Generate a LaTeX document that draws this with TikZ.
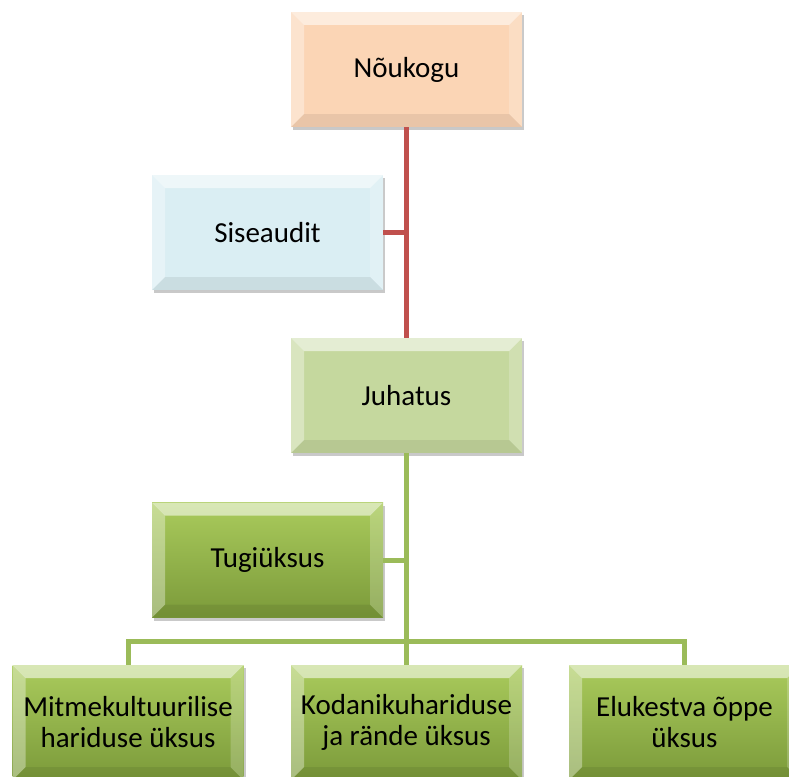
\documentclass[tikz,border=0pt]{standalone}
\usepackage{fontspec}
\setmainfont{Carlito}
\usetikzlibrary{shadows}
\definecolor{peach}{HTML}{FBD5B5}
\definecolor{paleblue}{HTML}{DAEEF3}
\definecolor{palegreen}{HTML}{C5D89E}
\definecolor{gtop}{HTML}{AACB5C}
\definecolor{gbot}{HTML}{7B9A3A}
\definecolor{redline}{HTML}{C0504D}
\definecolor{greenline}{HTML}{9BBB59}
\tikzset{
  bevel/.style={path picture={
    \fill[white,opacity=0.55] (path picture bounding box.north west) -- (path picture bounding box.north east) -- ([xshift=-13pt,yshift=-13pt]path picture bounding box.north east) -- ([xshift=13pt,yshift=-13pt]path picture bounding box.north west) -- cycle;
    \fill[white,opacity=0.35] (path picture bounding box.north west) -- ([xshift=13pt,yshift=-13pt]path picture bounding box.north west) -- ([xshift=13pt,yshift=13pt]path picture bounding box.south west) -- (path picture bounding box.south west) -- cycle;
    \fill[white,opacity=0.2] (path picture bounding box.north east) -- ([xshift=-13pt,yshift=-13pt]path picture bounding box.north east) -- ([xshift=-13pt,yshift=13pt]path picture bounding box.south east) -- (path picture bounding box.south east) -- cycle;
    \fill[black,opacity=0.07] (path picture bounding box.south west) -- ([xshift=13pt,yshift=13pt]path picture bounding box.south west) -- ([xshift=-13pt,yshift=13pt]path picture bounding box.south east) -- (path picture bounding box.south east) -- cycle;
  }},
  box/.style={rectangle, minimum width=231pt, minimum height=115pt, inner sep=0pt,
    align=center, font=\fontsize{29}{31}\selectfont, text=black, bevel,
    drop shadow={shadow xshift=2pt, shadow yshift=-3pt, opacity=0.3, fill=black!70}},
  redc/.style={draw=redline, line width=5pt},
  greenc/.style={draw=greenline, line width=5pt},
}
\begin{document}
\begin{tikzpicture}[x=1pt,y=-1pt]
\useasboundingbox (0,0) rectangle (789,776);
\node[box, fill=peach] (nou) at (406.5,69.5) {Nõukogu};
\node[box, fill=paleblue] (sis) at (267.5,232.5) {Siseaudit};
\node[box, fill=palegreen] (juh) at (406.5,395.5) {Juhatus};
\node[box, top color=gtop, bottom color=gbot] (tug) at (267.5,560) {Tugiüksus};
\node[box, top color=gtop, bottom color=gbot] (mit) at (128,722.5) {Mitmekultuurilise\\hariduse üksus};
\node[box, top color=gtop, bottom color=gbot] (kod) at (406.5,722.5) {Kodanikuhariduse\\ja rände üksus};
\node[box, top color=gtop, bottom color=gbot] (elu) at (684.5,722.5) {Elukestva õppe\\üksus};
\coordinate (sisj) at (sis.east -| nou.south);
\coordinate (tugj) at (tug.east -| juh.south);
\draw[redc] (nou.south) -- (juh.north);
\draw[redc] (sis.east) -- (sisj);
\draw[greenc] (juh.south) -- (kod.north);
\draw[greenc] (tug.east) -- (tugj);
\draw[greenc] (mit.north) -- ++(0,-23) -| (elu.north);
\end{tikzpicture}
\end{document}
